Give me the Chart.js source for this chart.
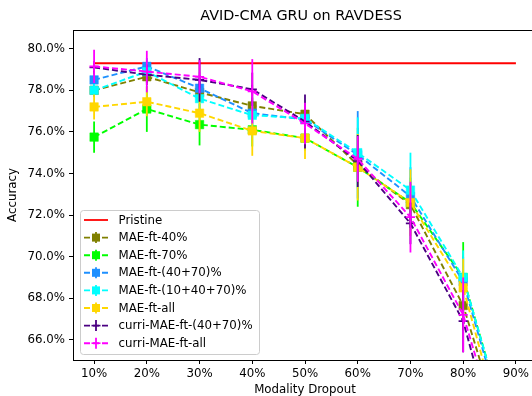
<!DOCTYPE html>
<html lang="en">
<head>
    <meta charset="UTF-8">
    <title>AVID-CMA GRU on RAVDESS</title>
    <script src="https://cdn.jsdelivr.net/npm/chart.js"></script>
    <style>
        html, body { margin: 0; padding: 0; overflow: hidden; background: #fff; }
    </style>
</head>
<body>

    <!-- plot is a bit wider than the window: right spine is cut off like in the original -->
    <div style="width: 545px; height: 396px;">
        <canvas id="accChart"></canvas>
    </div>

    <script>
        // Modality dropout (%)
        const dropout = [10, 20, 30, 40, 50, 60, 70, 80, 90];
        const yTicks = [66, 68, 70, 72, 74, 76, 78, 80];

        const pristine = [79.3, 79.3, 79.3, 79.3, 79.3, 79.3, 79.3, 79.3, 79.3];

        // mean accuracy
        const maeFt40      = [78.0, 78.65, 77.9, 77.25, 76.85, 74.4, 72.5, 67.65, 59.4];
        const maeFt70      = [75.75, 77.1, 76.35, 76.1, 75.7, 74.3, 72.6, 69.0, 60.2];
        const maeFt4070    = [78.5, 79.15, 78.1, 76.9, 76.6, 74.9, 72.9, 68.8, 60.0];
        const maeFt104070  = [78.0, 78.9, 77.6, 76.8, 76.65, 75.0, 73.2, 69.0, 60.2];
        const maeFtAll     = [77.2, 77.45, 76.9, 76.05, 75.7, 74.3, 72.6, 68.5, 59.2];
        const curri4070    = [79.1, 78.75, 78.5, 78.05, 76.5, 74.6, 71.6, 66.9, 57.6];
        const curriAll     = [79.15, 78.9, 78.65, 77.95, 76.4, 74.7, 71.9, 67.2, 58.7];

        // std (error bars)
        const errFt40      = [0.3, 0.3, 0.4, 0.4, 0.5, 0.8, 1.0, 1.2, 1.5];
        const errFt70      = [0.75, 1.1, 1.0, 0.8, 0.6, 1.9, 1.2, 1.7, 2.0];
        const errFt4070    = [0.35, 0.4, 0.5, 0.6, 0.8, 2.1, 1.4, 1.2, 1.5];
        const errFt104070  = [0.3, 0.4, 0.5, 0.6, 0.7, 1.7, 1.8, 1.3, 1.5];
        const errFtAll     = [0.6, 0.7, 0.9, 1.2, 1.0, 1.6, 1.6, 1.4, 1.5];
        const errCurri4070 = [0.3, 0.5, 1.05, 0.8, 1.3, 1.25, 1.0, 1.5, 1.5];
        const errCurriAll  = [0.8, 1.0, 0.8, 1.55, 1.0, 1.1, 1.7, 1.8, 1.8];

        const series = [
            { label: 'MAE-ft-40%',            values: maeFt40,     errors: errFt40,      color: '#808000', marker: 'rect' },
            { label: 'MAE-ft-70%',            values: maeFt70,     errors: errFt70,      color: '#00ff00', marker: 'rect' },
            { label: 'MAE-ft-(40+70)%',       values: maeFt4070,   errors: errFt4070,    color: '#1e90ff', marker: 'rect' },
            { label: 'MAE-ft-(10+40+70)%',    values: maeFt104070, errors: errFt104070,  color: '#00ffff', marker: 'rect' },
            { label: 'MAE-ft-all',            values: maeFtAll,    errors: errFtAll,     color: '#ffd700', marker: 'rect' },
            { label: 'curri-MAE-ft-(40+70)%', values: curri4070,   errors: errCurri4070, color: '#4b0082', marker: 'cross' },
            { label: 'curri-MAE-ft-all',      values: curriAll,    errors: errCurriAll,  color: '#ff00ff', marker: 'cross' }
        ];

        const FONT = 'DejaVu Sans';
        Chart.defaults.font.family = FONT;
        Chart.defaults.font.size = 11.8;
        Chart.defaults.color = '#000';

        const datasets = [{
            label: 'Pristine',
            data: dropout.map((x, i) => ({ x: x, y: pristine[i] })),
            borderColor: '#ff0000',
            borderWidth: 1.8,
            pointRadius: 0,
            order: 20
        }];
        series.forEach((s, k) => {
            datasets.push({
                label: s.label,
                data: dropout.map((x, i) => ({ x: x, y: s.values[i] })),
                errors: s.errors,
                borderColor: s.color,
                backgroundColor: s.color,
                borderWidth: 1.9,
                borderDash: [6, 3],
                pointStyle: s.marker,
                pointRadius: s.marker === 'rect' ? 6 : 4.6,
                pointBorderWidth: s.marker === 'rect' ? 0.5 : 1.6,
                pointBorderColor: s.color,
                pointBackgroundColor: s.color,
                order: 19 - k
            });
        });

        // vertical error bars, drawn under each series' own line/markers
        const errorBars = {
            id: 'errorBars',
            beforeDatasetDraw(chart, args) {
                const ds = chart.data.datasets[args.index];
                if (!ds.errors) return;
                const ctx = chart.ctx, xs = chart.scales.x, ys = chart.scales.y, a = chart.chartArea;
                ctx.save();
                ctx.beginPath();
                ctx.rect(a.left, a.top, a.right - a.left, a.bottom - a.top);
                ctx.clip();
                ctx.strokeStyle = ds.borderColor;
                ctx.lineWidth = 1.8;
                ds.data.forEach((p, i) => {
                    const px = xs.getPixelForValue(p.x);
                    ctx.beginPath();
                    ctx.moveTo(px, ys.getPixelForValue(p.y + ds.errors[i]));
                    ctx.lineTo(px, ys.getPixelForValue(p.y - ds.errors[i]));
                    ctx.stroke();
                });
                ctx.restore();
            }
        };

        // title, top spine and the in-axes legend
        const decorations = {
            id: 'decorations',
            afterDraw(chart) {
                const ctx = chart.ctx, a = chart.chartArea;
                ctx.save();
                ctx.strokeStyle = '#000';
                ctx.lineWidth = 1;
                ctx.beginPath();
                ctx.moveTo(a.left, a.top + 0.5);
                ctx.lineTo(a.right, a.top + 0.5);
                ctx.lineTo(a.right + 0.5, a.bottom);
                ctx.stroke();

                ctx.fillStyle = '#000';
                ctx.font = '14.4px "' + FONT + '"';
                ctx.textAlign = 'center';
                ctx.textBaseline = 'middle';
                ctx.fillText('AVID-CMA GRU on RAVDESS', (a.left + a.right) / 2 - 4, 16);

                // legend box
                const bx = 80.5, by = 210.5, bw = 179, bh = 144, r = 3;
                ctx.beginPath();
                ctx.moveTo(bx + r, by);
                ctx.arcTo(bx + bw, by, bx + bw, by + bh, r);
                ctx.arcTo(bx + bw, by + bh, bx, by + bh, r);
                ctx.arcTo(bx, by + bh, bx, by, r);
                ctx.arcTo(bx, by, bx + bw, by, r);
                ctx.closePath();
                ctx.fillStyle = 'rgba(255,255,255,0.8)';
                ctx.fill();
                ctx.strokeStyle = '#cccccc';
                ctx.stroke();

                ctx.font = '11.8px "' + FONT + '"';
                ctx.textAlign = 'left';
                chart.data.datasets.forEach((ds, i) => {
                    const y = 220 + i * 17.6;
                    ctx.strokeStyle = ds.borderColor;
                    ctx.lineWidth = ds.borderWidth;
                    ctx.setLineDash(ds.borderDash || []);
                    ctx.beginPath();
                    ctx.moveTo(84, y);
                    ctx.lineTo(108, y);
                    ctx.stroke();
                    ctx.setLineDash([]);
                    if (ds.errors) {
                        ctx.lineWidth = 1.8;
                        ctx.beginPath();
                        ctx.moveTo(96, y - 5.5);
                        ctx.lineTo(96, y + 5.5);
                        ctx.stroke();
                        if (ds.pointStyle === 'rect') {
                            ctx.fillStyle = ds.borderColor;
                            ctx.fillRect(92, y - 4, 8, 8);
                        } else {
                            ctx.lineWidth = 1.6;
                            ctx.beginPath();
                            ctx.moveTo(91.5, y);
                            ctx.lineTo(100.5, y);
                            ctx.stroke();
                        }
                    }
                    ctx.fillStyle = '#000';
                    ctx.fillText(ds.label, 118.5, y + 0.5);
                });
                ctx.restore();
            }
        };

        new Chart(document.getElementById('accChart'), {
            type: 'line',
            data: { datasets: datasets },
            plugins: [errorBars, decorations],
            options: {
                responsive: true,
                maintainAspectRatio: false,
                animation: false,
                events: [],
                layout: { padding: { top: 30, right: 8, left: 0, bottom: 0 } },
                plugins: {
                    legend: { display: false },
                    tooltip: { enabled: false },
                    title: { display: false }
                },
                scales: {
                    x: {
                        type: 'linear',
                        min: 6,
                        max: 94,
                        afterBuildTicks: s => { s.ticks = dropout.map(v => ({ value: v })); },
                        afterFit: s => { s.height = 36; },
                        grid: { drawOnChartArea: false, color: '#000', tickLength: 4 },
                        border: { color: '#000', width: 1 },
                        ticks: { padding: 3, maxRotation: 0, callback: v => v + '%' },
                        title: { display: true, text: 'Modality Dropout', font: { lineHeight: 1.0 }, padding: { top: 0, bottom: 0 } }
                    },
                    y: {
                        min: 65.03,
                        max: 80.9,
                        afterBuildTicks: s => { s.ticks = yTicks.map(v => ({ value: v })); },
                        afterFit: s => { s.width = 73; },
                        grid: { drawOnChartArea: false, color: '#000', tickLength: 4 },
                        border: { color: '#000', width: 1 },
                        ticks: { padding: 4, callback: v => v.toFixed(1) + '%' },
                        title: { display: true, text: 'Accuracy', padding: { top: 6, bottom: 0 } }
                    }
                }
            }
        });
    </script>
</body>
</html>
